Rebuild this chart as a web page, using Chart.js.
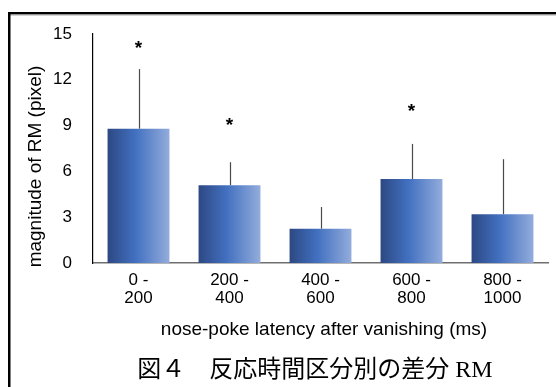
<!DOCTYPE html>
<html>
<head>
<meta charset="utf-8">
<script src="https://cdn.jsdelivr.net/npm/chart.js@4.4.1/dist/chart.umd.min.js"></script>
<style>
  html, body { margin: 0; padding: 0; background: #fff; }
  #wrap { position: relative; width: 556px; height: 387px; }
  canvas { display: block; }
</style>
</head>
<body>
<div id="wrap"><canvas id="c" width="556" height="387"></canvas></div>
<script>
// ---- data ----
const categories = [['0 -', '200'], ['200 -', '400'], ['400 -', '600'], ['600 -', '800'], ['800 -', '1000']];
const meanRM = [8.8, 5.1, 2.25, 5.5, 3.2];
const sdRM = [3.9, 1.5, 1.42, 2.3, 3.6];
const starY = [14.3, 9.3, null, 10.2, null];
const yTicks = [0, 3, 6, 9, 12, 15];
const yTitle = 'magnitude of RM (pixel)';
const xTitle = 'nose-poke latency after vanishing (ms)';
const caption = '図４　反応時間区分別の差分 RM';

const SANS = '"Liberation Sans", Arial, sans-serif';
const BAR_PCT = 0.68;

function barGradient(ctx) {
  const chart = ctx.chart;
  const xs = chart.scales && chart.scales.x;
  if (!xs || ctx.dataIndex === undefined) return '#4270c0';
  const cx = xs.getPixelForValue(ctx.dataIndex);
  const w = xs.width / categories.length * BAR_PCT;
  if (!isFinite(cx) || !isFinite(w) || w <= 0) return '#4270c0';
  const g = chart.ctx.createLinearGradient(cx - w / 2, 0, cx + w / 2, 0);
  g.addColorStop(0, '#2d4883');
  g.addColorStop(0.45, '#4270c0');
  g.addColorStop(1, '#93acdc');
  return g;
}

const decor = {
  id: 'decor',
  afterDatasetsDraw(chart) {
    const c = chart.ctx, xs = chart.scales.x, ys = chart.scales.y;
    c.save();
    // error bars (upper only)
    c.strokeStyle = '#4a4a4a';
    c.lineWidth = 1.2;
    meanRM.forEach((m, i) => {
      const x = Math.round(xs.getPixelForValue(i)) + 0.5;
      c.beginPath();
      c.moveTo(x, ys.getPixelForValue(m));
      c.lineTo(x, ys.getPixelForValue(m + sdRM[i]));
      c.stroke();
    });
    // significance stars
    c.fillStyle = '#000';
    c.font = 'bold 19px ' + SANS;
    c.textAlign = 'center';
    c.textBaseline = 'alphabetic';
    starY.forEach((v, i) => {
      if (v === null) return;
      c.fillText('*', xs.getPixelForValue(i), ys.getPixelForValue(v) + 0.5 * 19);
    });
    c.restore();
  },
  afterDraw(chart) {
    const c = chart.ctx;
    c.save();
    // axis titles
    c.fillStyle = '#000';
    c.font = '19px ' + SANS;
    c.textAlign = 'center';
    c.textBaseline = 'alphabetic';
    c.fillText(xTitle, 324, 335);
    c.save();
    c.translate(41, 166.5);
    c.rotate(-Math.PI / 2);
    c.font = '19px ' + SANS;
    c.fillText(yTitle, 0, 0);
    c.restore();
    // caption
    c.font = '24px "Liberation Serif", "Noto Sans CJK JP", serif';
    c.textBaseline = 'middle';
    c.fillText(caption, 315, 371);
    // frame lines
    c.fillStyle = '#000';
    c.fillRect(8, 12, 548, 2.5);
    c.fillStyle = '#aaa';
    c.fillRect(8, 14.5, 548, 1);
    c.fillStyle = '#000';
    c.fillRect(8, 12, 2.5, 375);
    c.restore();
  }
};

new Chart(document.getElementById('c'), {
  type: 'bar',
  data: {
    labels: categories,
    datasets: [{
      data: meanRM,
      backgroundColor: barGradient,
      borderWidth: 0,
      barPercentage: BAR_PCT,
      categoryPercentage: 1
    }]
  },
  options: {
    responsive: false,
    animation: false,
    devicePixelRatio: 1,
    layout: { padding: { left: 0, top: 34, right: 8, bottom: 0 } },
    plugins: { legend: { display: false }, tooltip: { enabled: false } },
    scales: {
      x: {
        grid: { display: false, drawTicks: false },
        border: { display: true, color: '#6e6e6e', width: 1.5 },
        ticks: { color: '#000', font: { family: SANS, size: 17, lineHeight: 1.06 }, padding: 8, maxRotation: 0, autoSkip: false },
        afterFit(s) { s.height = 124; }
      },
      y: {
        min: 0, max: 15,
        grid: { display: false, drawTicks: false },
        border: { display: true, color: '#000', width: 1.2 },
        afterBuildTicks(s) { s.ticks = yTicks.map(v => ({ value: v })); },
        ticks: { color: '#000', font: { family: SANS, size: 17 }, padding: 21 },
        afterFit(s) { s.width = 93; }
      }
    }
  },
  plugins: [decor]
});
</script>
</body>
</html>
